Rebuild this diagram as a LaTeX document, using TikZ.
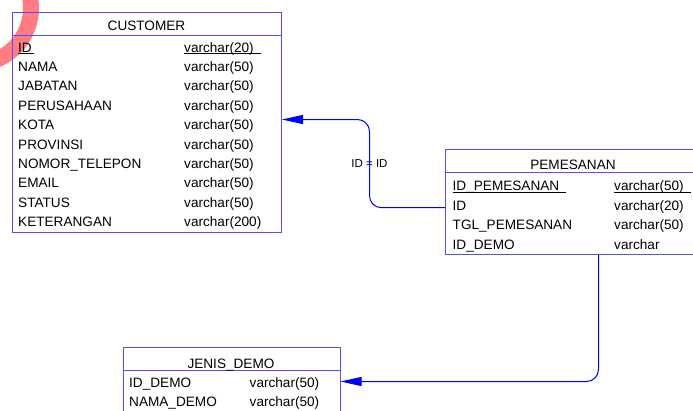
\documentclass[tikz,border=0pt]{standalone}
\usepackage{fontspec}
\setmainfont{Liberation Sans}
\usepackage{tikz}
\usetikzlibrary{arrows.meta}
\usetikzlibrary{calc}
\definecolor{tblblue}{RGB}{80,80,255}
\definecolor{fkblue}{RGB}{0,0,255}
\definecolor{ringred}{RGB}{255,125,130}
\tikzset{
    tbl/.style={draw=tblblue, line width=1pt, inner sep=0pt, anchor=north west},
    tblsep/.style={draw=tblblue, line width=1pt},
    tbltitle/.style={inner sep=0pt, anchor=base, font=\fontsize{13.6}{16}\selectfont},
    field/.style={inner sep=0pt, anchor=base west, font=\fontsize{13.6}{16}\selectfont},
    keyline/.style={draw=black, line width=0.9pt},
    fk/.style={draw=fkblue, line width=1pt, rounded corners=12pt,
        -{Triangle[length=21pt,width=9pt]}},
    rel/.style={inner sep=0pt, font=\fontsize{11.5}{13}\selectfont},
}
\begin{document}
\begin{tikzpicture}[x=1pt, y=-1pt]
	\useasboundingbox (0,0) rectangle (693,410);
	\clip (0,0) rectangle (693,410);
	\fill[ringred] plot[smooth, domain=-20:80, samples=26] ({-25+64*cos(\x)}, {8+64*sin(\x)})
		-- plot[smooth, domain=80:-20, samples=26] ({-25+48*cos(\x)}, {8+48*sin(\x)}) -- cycle;
	% CUSTOMER
	\node[tbl, minimum width=269pt, minimum height=220pt] (cust) at (12,12) {};
	\draw[tblsep] ([yshift=-23pt]cust.north west) -- ([yshift=-23pt]cust.north east);
	\node[tbltitle] (c-title) at (146.5,30) {CUSTOMER};
	\node[field] (c-id) at (18,52) {ID};
	\node[field] (c-id-type) at (184,52) {varchar(20)};
	\node[field] (c-nama) at (18,71.4) {NAMA};
	\node[field] (c-nama-type) at (184,71.4) {varchar(50)};
	\node[field] (c-jabatan) at (18,90.8) {JABATAN};
	\node[field] (c-jabatan-type) at (184,90.8) {varchar(50)};
	\node[field] (c-perusahaan) at (18,110.2) {PERUSAHAAN};
	\node[field] (c-perusahaan-type) at (184,110.2) {varchar(50)};
	\node[field] (c-kota) at (18,129.6) {KOTA};
	\node[field] (c-kota-type) at (184,129.6) {varchar(50)};
	\node[field] (c-provinsi) at (18,149) {PROVINSI};
	\node[field] (c-provinsi-type) at (184,149) {varchar(50)};
	\node[field] (c-telepon) at (18,168.4) {NOMOR\_TELEPON};
	\node[field] (c-telepon-type) at (184,168.4) {varchar(50)};
	\node[field] (c-email) at (18,187.8) {EMAIL};
	\node[field] (c-email-type) at (184,187.8) {varchar(50)};
	\node[field] (c-status) at (18,207.2) {STATUS};
	\node[field] (c-status-type) at (184,207.2) {varchar(50)};
	\node[field] (c-ket) at (18,226.6) {KETERANGAN};
	\node[field] (c-ket-type) at (184,226.6) {varchar(200)};
	\draw[keyline] ([yshift=-1.5pt]c-id.base west) -- ([xshift=1.5pt,yshift=-1.5pt]c-id.base east);
	\draw[keyline] ([yshift=-1.5pt]c-id-type.base west) -- ([xshift=7pt,yshift=-1.5pt]c-id-type.base east);
	% PEMESANAN
	\node[tbl, minimum width=256pt, minimum height=105pt] (pes) at (445,149) {};
	\draw[tblsep] ([yshift=-23.5pt]pes.north west) -- ([yshift=-23.5pt]pes.north east);
	\node[tbltitle] (p-title) at (573,169) {PEMESANAN};
	\node[field] (p-idpes) at (452.5,190.5) {ID\_PEMESANAN};
	\node[field] (p-idpes-type) at (614,190.5) {varchar(50)};
	\node[field] (p-id) at (452.5,210.2) {ID};
	\node[field] (p-id-type) at (614,210.2) {varchar(20)};
	\node[field] (p-tgl) at (452.5,229.9) {TGL\_PEMESANAN};
	\node[field] (p-tgl-type) at (614,229.9) {varchar(50)};
	\node[field] (p-iddemo) at (452.5,249.6) {ID\_DEMO};
	\node[field] (p-iddemo-type) at (614,249.6) {varchar};
	\draw[keyline] ([yshift=-1.5pt]p-idpes.base west) -- ([xshift=7pt,yshift=-1.5pt]p-idpes.base east);
	\draw[keyline] ([yshift=-1.5pt]p-idpes-type.base west) -- ([xshift=7pt,yshift=-1.5pt]p-idpes-type.base east);
	% JENIS_DEMO
	\node[tbl, minimum width=217pt, minimum height=80pt] (jd) at (122.5,347) {};
	\draw[tblsep] ([yshift=-23.5pt]jd.north west) -- ([yshift=-23.5pt]jd.north east);
	\node[tbltitle] (j-title) at (231,368) {JENIS\_DEMO};
	\node[field] (j-iddemo) at (129,387.5) {ID\_DEMO};
	\node[field] (j-iddemo-type) at (249.5,387.5) {varchar(50)};
	\node[field] (j-nama) at (129,406.9) {NAMA\_DEMO};
	\node[field] (j-nama-type) at (249.5,406.9) {varchar(50)};
	% references
	\node[rel] (rel1) at (369.5,164) {ID = ID};
	\coordinate (fk1-from) at ($(pes.west |- p-id.base)+(0,-2.5)$);
	\coordinate (fk1-to) at ([yshift=3pt]cust.east);
	\draw[fk] (fk1-from) -| (rel1.center) |- (fk1-to);
	\coordinate (fk2-to) at ($(jd.east |- j-iddemo.base)+(0,-6)$);
	\draw[fk] ([xshift=25pt]pes.south) |- (fk2-to);
\end{tikzpicture}
\end{document}
